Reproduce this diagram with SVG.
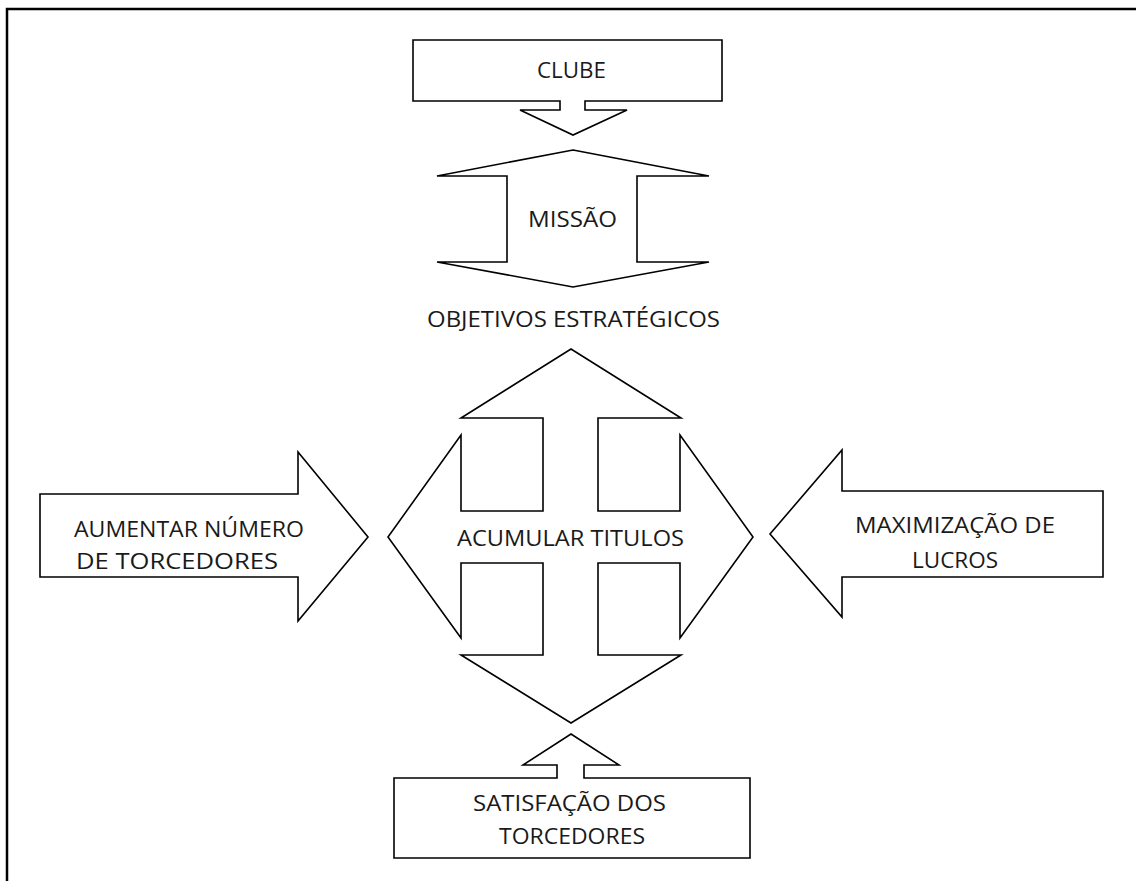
<svg xmlns="http://www.w3.org/2000/svg" width="1136" height="881" viewBox="0 0 1136 881">
<style>
.shape{fill:#fff;stroke:#000;stroke-width:1.6;stroke-linejoin:miter}
.lbl{font-family:"Open Sans","Liberation Sans",sans-serif;font-size:21px;fill:#1a1a1a;text-anchor:start}
.frame{fill:none;stroke:#000;stroke-width:2.5}
</style>
<rect width="1136" height="881" fill="#fff"/>
<path class="frame" d="M7,881 L7,9 L1136,9"/>

<g id="clube">
<path class="shape" d="M413,40 L722,40 L722,101 L585,101 L585,110 L627,110 L573,135 L520,110 L560,110 L560,101 L413,101 Z"/>
<text class="lbl" x="537" y="78" textLength="69" lengthAdjust="spacingAndGlyphs">CLUBE</text>
</g>

<g id="missao">
<path class="shape" d="M573,150 L709,176 L637,176 L637,262 L709,262 L573,287 L437,262 L507,262 L507,176 L437,176 Z"/>
<text class="lbl" x="528" y="227" textLength="89" lengthAdjust="spacingAndGlyphs">MISSÃO</text>
</g>

<g id="objetivos">
<text class="lbl" x="427" y="327" textLength="293" lengthAdjust="spacingAndGlyphs">OBJETIVOS ESTRATÉGICOS</text>
</g>

<g id="acumular">
<path class="shape" d="M461,435 L461,511 L543,511 L543,418 L461,418 L571,349 L681,418 L598,418 L598,511 L680,511 L680,435 L753,537 L680,638 L680,563 L598,563 L598,655 L681,655 L571,723 L461,655 L543,655 L543,563 L461,563 L461,638 L388,537 Z"/>
<text class="lbl" x="457" y="546" textLength="227" lengthAdjust="spacingAndGlyphs">ACUMULAR TITULOS</text>
</g>

<g id="aumentar">
<path class="shape" d="M40,494 L298,494 L298,452 L368,537 L298,621 L298,577 L40,577 Z"/>
<text class="lbl" x="74" y="537" textLength="230" lengthAdjust="spacingAndGlyphs">AUMENTAR NÚMERO</text>
<text class="lbl" x="76" y="569" textLength="202" lengthAdjust="spacingAndGlyphs">DE TORCEDORES</text>
</g>

<g id="maximizacao">
<path class="shape" d="M1103,491 L842,491 L842,450 L770,534 L842,617 L842,577 L1103,577 Z"/>
<text class="lbl" x="855" y="533" textLength="200" lengthAdjust="spacingAndGlyphs">MAXIMIZAÇÃO DE</text>
<text class="lbl" x="912" y="568" textLength="86" lengthAdjust="spacingAndGlyphs">LUCROS</text>
</g>

<g id="satisfacao">
<path class="shape" d="M394,778 L557,778 L557,765 L523,765 L571,734 L619,765 L584,765 L584,778 L750,778 L750,858 L394,858 Z"/>
<text class="lbl" x="473" y="811" textLength="193" lengthAdjust="spacingAndGlyphs">SATISFAÇÃO DOS</text>
<text class="lbl" x="499" y="844" textLength="146" lengthAdjust="spacingAndGlyphs">TORCEDORES</text>
</g>

<g id="connectors"></g>
</svg>
